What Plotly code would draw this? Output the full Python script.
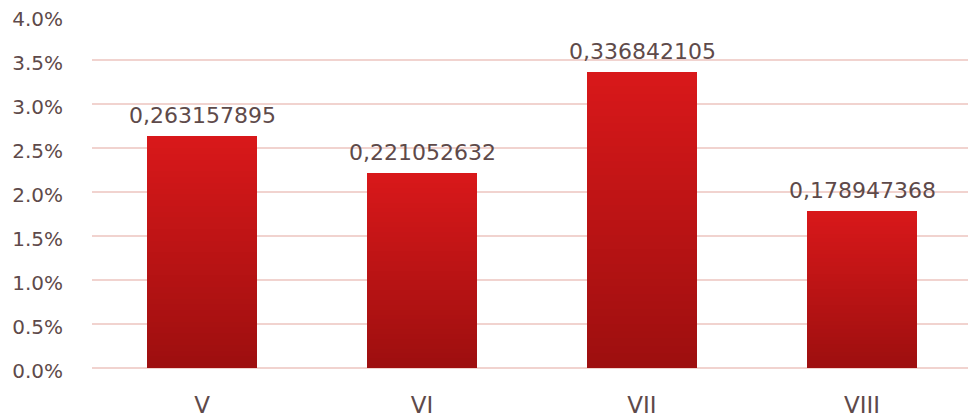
import plotly.graph_objects as go

categories = ["V", "VI", "VII", "VIII"]
values = [0.0263157895, 0.0221052632, 0.0336842105, 0.0178947368]
value_labels = ["0,263157895", "0,221052632", "0,336842105", "0,178947368"]
y_tick_vals = [0, 0.005, 0.01, 0.015, 0.02, 0.025, 0.03, 0.035, 0.04]

TOP = (216, 24, 26)
BOTTOM = (158, 15, 15)
N = 40

fig = go.Figure()
for k in range(N):
    t = k / (N - 1)
    c = tuple(round(BOTTOM[j] + (TOP[j] - BOTTOM[j]) * t) for j in range(3))
    fig.add_trace(go.Bar(
        x=categories,
        y=[v / N for v in values],
        marker=dict(color="rgb(%d,%d,%d)" % c, line=dict(width=0)),
        showlegend=False,
        hoverinfo="skip",
    ))

text_color = "#5E4A4A"
FONT = "DejaVu Sans"
for cat, v, lab in zip(categories, values, value_labels):
    fig.add_annotation(
        x=cat, y=v, text=lab, showarrow=False, yanchor="bottom",
        yshift=6, font=dict(family=FONT, size=22, color=text_color),
    )

fig.update_layout(
    width=976, height=418,
    margin=dict(l=84, r=12, t=8, b=58),
    barmode="stack",
    bargap=0.5,
    plot_bgcolor="white",
    paper_bgcolor="white",
    font=dict(family=FONT, size=20, color=text_color),
)
fig.update_xaxes(
    automargin=False,
    showgrid=False, showline=False, zeroline=False,
    ticks="outside", ticklen=16, tickcolor="rgba(0,0,0,0)",
    tickfont=dict(size=23),
)
fig.update_yaxes(
    automargin=False,
    range=[0, 0.04], tickvals=y_tick_vals, tickformat=".1%",
    ticklabeloverflow="allow", ticklabelshift=3,
    showgrid=True, gridcolor="#F1D3CF", gridwidth=1.5,
    zeroline=True, zerolinecolor="#F1D3CF", zerolinewidth=1.5,
    ticks="outside", ticklen=24, tickcolor="rgba(0,0,0,0)",
)

fig.write_html("out.html")
